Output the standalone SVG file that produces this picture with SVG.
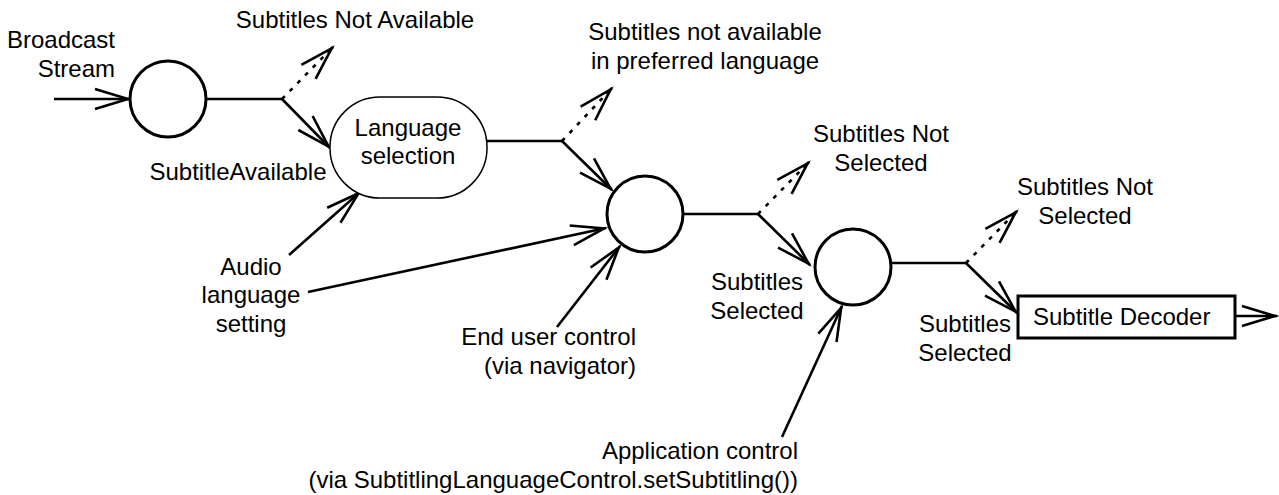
<svg xmlns="http://www.w3.org/2000/svg" width="1279" height="495" viewBox="0 0 1279 495">
<style>
text{font-family:"Liberation Sans",Arial,sans-serif;font-size:24px;fill:#000}
.m{text-anchor:middle}
.e{text-anchor:end}
.node{fill:#fff;stroke:#000;stroke-width:3}
.stad{fill:#fff;stroke:#000;stroke-width:1.5}
.c{fill:none;stroke:#000;stroke-width:2.6}
.a{marker-end:url(#ah)}
.d{stroke-dasharray:4 7}
.h{fill:none;stroke:#000;stroke-width:2.6}
</style>
<defs>
<marker id="ah" markerUnits="userSpaceOnUse" markerWidth="44" markerHeight="28" viewBox="-40 -14 44 28" refX="2" refY="0" orient="auto" overflow="visible">
<path d="M-33,-10 L0,0 L-33,10" fill="none" stroke="#000" stroke-width="2.6"/>
</marker>
</defs>
<rect width="1279" height="495" fill="#fff"/>
<g id="connectors">
<line class="c a" x1="54" y1="99" x2="130" y2="99"/>
<polyline class="c" points="207,99 282,99"/>
<line class="c a" x1="282" y1="99" x2="330" y2="148"/>
<line class="c d" x1="282" y1="99" x2="333" y2="47"/>
<line class="c a" x1="327.4" y1="52.7" x2="333" y2="47"/>
<polyline class="c" points="487,141 562,141"/>
<line class="c a" x1="562" y1="141" x2="612" y2="190"/>
<line class="c d" x1="562" y1="141" x2="612" y2="88"/>
<line class="c a" x1="606.5" y1="93.8" x2="612" y2="88"/>
<line class="c a" x1="289" y1="255" x2="360" y2="192"/>
<line class="c a" x1="308" y1="292" x2="606" y2="228"/>
<line class="c a" x1="557" y1="327" x2="620" y2="246"/>
<polyline class="c" points="683,214 758,214"/>
<line class="c a" x1="758" y1="214" x2="810" y2="265"/>
<line class="c d" x1="758" y1="214" x2="809" y2="162"/>
<line class="c a" x1="803.4" y1="167.7" x2="809" y2="162"/>
<polyline class="c" points="891,263 966,263"/>
<line class="c a" x1="966" y1="263" x2="1017" y2="313"/>
<line class="c d" x1="966" y1="263" x2="1017" y2="211"/>
<line class="c a" x1="1011.4" y1="216.7" x2="1017" y2="211"/>
<line class="c a" x1="782" y1="437" x2="842" y2="306"/>
<line class="c a" x1="1235" y1="316" x2="1277" y2="316"/>
</g>
<g id="node-start"><circle class="node" cx="168" cy="99" r="38"/></g>
<g id="node-language"><rect class="stad" x="330" y="97" width="157" height="101" rx="50" ry="50"/>
<text class="m" x="408" y="136">Language</text><text class="m" x="408" y="164">selection</text></g>
<g id="node-c2"><circle class="node" cx="645" cy="214" r="38"/></g>
<g id="node-c3"><circle class="node" cx="853" cy="267" r="38"/></g>
<g id="node-decoder"><rect class="node" x="1018" y="296" width="217" height="42"/>
<text x="1033" y="325">Subtitle Decoder</text></g>
<g id="labels">
<text class="e" x="115" y="48">Broadcast</text><text class="e" x="115" y="77">Stream</text>
<text class="m" x="355" y="28">Subtitles Not Available</text>
<text class="m" x="238" y="180">SubtitleAvailable</text>
<text class="m" x="705" y="40">Subtitles not available</text><text class="m" x="705" y="69">in preferred language</text>
<text class="m" x="881" y="142">Subtitles Not</text><text class="m" x="881" y="171">Selected</text>
<text class="m" x="1085" y="195">Subtitles Not</text><text class="m" x="1085" y="224">Selected</text>
<text class="m" x="251" y="275">Audio</text><text class="m" x="251" y="303">language</text><text class="m" x="251" y="332">setting</text>
<text class="m" x="757" y="290">Subtitles</text><text class="m" x="757" y="319">Selected</text>
<text class="m" x="965" y="332">Subtitles</text><text class="m" x="965" y="361">Selected</text>
<text class="e" x="636" y="345">End user control</text><text class="e" x="636" y="374">(via navigator)</text>
<text class="e" x="798" y="459">Application control</text><text class="e" x="798" y="488">(via SubtitlingLanguageControl.setSubtitling())</text>
</g>
</svg>
